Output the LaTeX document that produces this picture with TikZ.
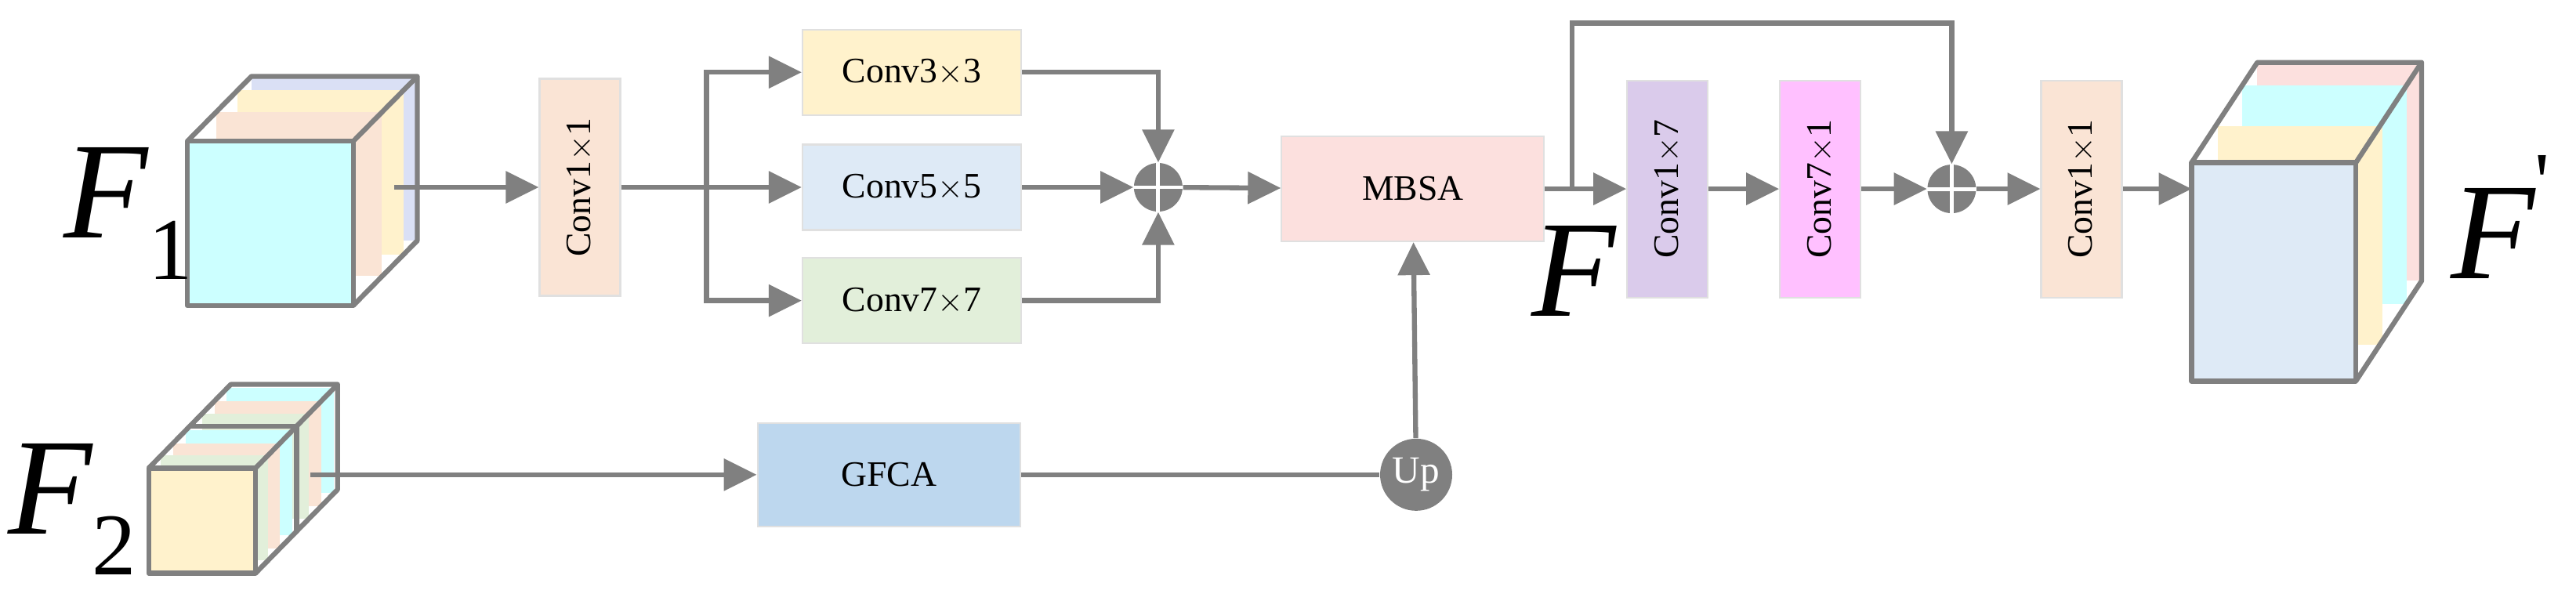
\documentclass[tikz,border=0pt]{standalone}
\usepackage{fontspec}
\setmainfont{Liberation Serif}
\usetikzlibrary{arrows.meta, positioning, calc}

\definecolor{linegray}{RGB}{128,128,128}
\definecolor{cpeach}{RGB}{250,228,213}
\definecolor{cyellow}{RGB}{255,242,204}
\definecolor{cblue}{RGB}{222,234,246}
\definecolor{cgreen}{RGB}{226,239,218}
\definecolor{cpink}{RGB}{252,224,222}
\definecolor{cgfca}{RGB}{189,215,238}
\definecolor{cpurple}{RGB}{218,203,235}
\definecolor{cmagenta}{RGB}{255,192,255}
\definecolor{ccyan}{RGB}{204,255,255}
\definecolor{clav}{RGB}{218,224,245}

\tikzset{
  block/.style={draw=black!12, line width=0.6pt, inner sep=0pt, font=\fontsize{13}{15}\selectfont},
  hblock/.style={block, minimum width=2.79cm, minimum height=1.09cm},
  vblock/.style={block, minimum width=1.03cm, minimum height=2.77cm},
  wblock/.style={block, minimum width=3.35cm, minimum height=1.34cm},
  arr/.style={-{Triangle[length=0.42cm,width=0.4cm]}, linegray, line width=1.8pt},
  ln/.style={linegray, line width=1.8pt},
  edge/.style={linegray, line width=1.8pt, line join=round},
  plus/.style={circle, fill=linegray, minimum size=0.62cm, inner sep=0pt},
  bigF/.style={font=\fontsize{50}{54}\selectfont\itshape, inner sep=0pt}
}

\begin{document}
\begin{tikzpicture}[x=0.02096cm, y=-0.02096cm]
  \useasboundingbox (0,0) rectangle (1568,365.5);

  % F1 cube
  \fill[clav] (153,46.5) rectangle (254,146.5);
  \fill[cyellow] (144.5,55) rectangle (245.5,155);
  \fill[cpeach] (131.5,68) rectangle (232.5,168);
  \fill[ccyan] (114,86) rectangle (215,186);
  \draw[edge] (114,86) rectangle (215,186);
  \draw[edge] (114,86) -- (153,46.5) -- (254,46.5) -- (254,146.5) -- (215,186);
  \draw[edge] (215,86) -- (254,46.5);
  \node[bigF] (f1) at (78,130) {F\raisebox{-0.3em}{\upshape\fontsize{32}{36}\selectfont 1}};

  % F2 cube
  \fill[ccyan] (138,236) rectangle (203,300);
  \fill[cpeach] (130.5,244) rectangle (195.5,308);
  \fill[cgreen] (123,252) rectangle (188,316);
  \draw[edge] (115.5,259.5) -- (180.5,259.5) -- (180.5,323.5);
  \fill[ccyan] (113,262) rectangle (178,326);
  \fill[cpeach] (105.5,270) rectangle (170.5,334);
  \fill[cgreen] (98,277) rectangle (163,341);
  \fill[cyellow] (90.5,285) rectangle (155.5,349);
  \draw[edge] (90.5,285) rectangle (155.5,349);
  \draw[edge] (90.5,285) -- (140.5,234) -- (205.5,234) -- (205.5,298) -- (155.5,349);
  \draw[edge] (155.5,285) -- (205.5,234);
  \node[bigF] (f2) at (44,310) {F\raisebox{-0.3em}{\upshape\fontsize{32}{36}\selectfont 2}};

  % output cube
  \fill[cpink] (1374,38) rectangle (1474,171);
  \fill[ccyan] (1365,52) rectangle (1465,185);
  \fill[cyellow] (1350,77) rectangle (1450,210);
  \fill[cblue] (1334,99) rectangle (1434,232);
  \draw[edge] (1334,99) rectangle (1434,232);
  \draw[edge] (1334,99) -- (1374,38) -- (1474,38) -- (1474,171) -- (1434,232);
  \draw[edge] (1434,99) -- (1474,38);
  \node[bigF] (fout) at (1522,132) {F\raisebox{0.5em}{\upshape\fontsize{30}{34}\selectfont \textquotesingle}};

  % blocks
  \node[vblock, fill=cpeach] (conv1) at (353,114) {\rotatebox{90}{Conv1$\times$1}};
  \node[hblock, fill=cyellow] (conv3) at (555,44) {Conv3$\times$3};
  \node[hblock, fill=cblue] (conv5) at (555,114) {Conv5$\times$5};
  \node[hblock, fill=cgreen] (conv7) at (555,183) {Conv7$\times$7};
  \node[plus] (add1) at (705,114) {};
  \node[wblock, fill=cpink] (mbsa) at (860,115) {MBSA};
  \node[wblock, fill=cgfca, minimum height=1.32cm] (gfca) at (541,289) {GFCA};
  \node[circle, fill=linegray, minimum size=0.92cm, inner sep=0pt, text=white,
        font=\fontsize{14}{16}\selectfont] (up) at (862,289) {Up};
  \node[vblock, fill=cpurple] (conv17) at (1015,115) {\rotatebox{90}{Conv1$\times$7}};
  \node[vblock, fill=cmagenta] (conv71) at (1108,115) {\rotatebox{90}{Conv7$\times$1}};
  \node[plus] (add2) at (1188,115) {};
  \node[vblock, fill=cpeach] (conv11) at (1267,115) {\rotatebox{90}{Conv1$\times$1}};
  \node[bigF] (fmid) at (958,165) {F};

  % white crosses
  \foreach \p in {add1, add2} {
    \draw[white, line width=1.4pt] (\p.north) -- (\p.south) (\p.west) -- (\p.east);
  }

  \coordinate (f1out) at (240,114);
  \coordinate (split) at (430,114);
  \coordinate (f2out) at (189,289);
  \coordinate (skip) at (957,115);

  % connectors
  \draw[arr] (f1out) -- (conv1);
  \draw[ln] (conv1) -- (split);
  \draw[arr] (split) -- (conv5);
  \draw[arr] (split) |- (conv3);
  \draw[arr] (split) |- (conv7);
  \draw[arr] (conv3) -| (add1);
  \draw[arr] (conv5) -- (add1);
  \draw[arr] (conv7) -| (add1);
  \draw[arr] (add1) -- (mbsa);
  \draw[arr] (f2out) -- (gfca);
  \draw[ln] (gfca) -- (up);
  \draw[arr] (up) -- (mbsa);
  \draw[arr] (mbsa) -- (conv17);
  \draw[arr] (skip) -- ++(0,-101) -| (add2);
  \draw[arr] (conv17) -- (conv71);
  \draw[arr] (conv71) -- (add2);
  \draw[arr] (add2) -- (conv11);
  \draw[arr] (conv11) -- (1334,115);
\end{tikzpicture}
\end{document}
